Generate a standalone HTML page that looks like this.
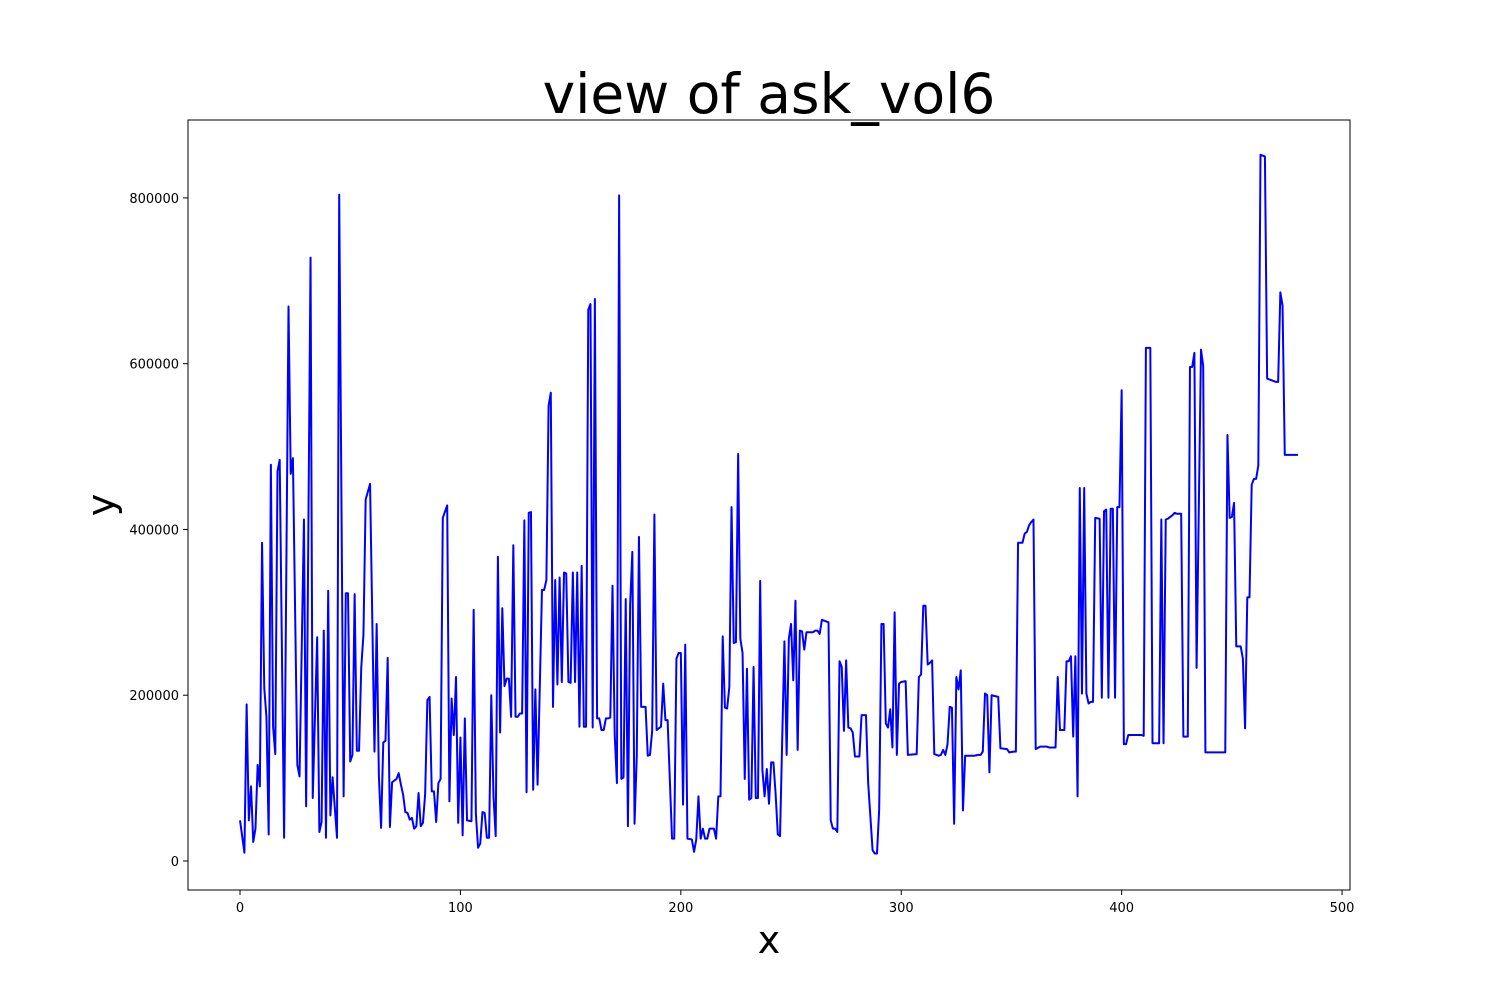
<!DOCTYPE html>
<html><head><meta charset="utf-8"><title>view of ask_vol6</title>
<style>
body{margin:0;background:#fff;}
svg{display:block;font-family:"DejaVu Sans","Liberation Sans",sans-serif;}
</style></head>
<body>
<svg id="chart" width="1500" height="1000" viewBox="0 0 1500 1000" xmlns="http://www.w3.org/2000/svg">
<rect x="0" y="0" width="1500" height="1000" fill="#fff"/>
<text x="769" y="113" font-size="55" text-anchor="middle">view of ask_vol6</text>
<g id="plot"></g>
<rect x="188" y="120" width="1162" height="770" fill="none" stroke="#000" stroke-width="1"/>
<text x="769" y="953" font-size="38" text-anchor="middle">x</text>
<text x="0" y="0" font-size="38" text-anchor="middle" transform="translate(114,505) rotate(-90)">y</text>
</svg>
<script>
const xs = [0,2,3,4,5,6,7,8,9,10,11,12,13,14,15,16,17,18,20,22,23,24,26,27,29,30,32,33,35,36,37,38,39,40,41,42,44,45,47,48,49,50,51,52,53,54,55,56,57,59,61,62,63,64,65,66,67,68,69,71,72,73,74,75,76,77,78,79,80,81,82,
83,84,85,86,87,88,89,90,91,92,94,95,96,97,98,99,100,101,102,103,105,106,107,108,109,110,111,112,113,114,115,116,117,118,119,120,121,122,123,124,125,126,127,128,129,130,131,132,133,134,135,137,138,139,140,141,142,143,144,145,146,147,148,149,150,151,152,153,154,155,156,157,158,159,160,161,162,163,164,165,166,167,
168,169,170,171,172,173,174,175,176,177,178,179,180,181,182,184,185,186,187,188,189,191,192,193,194,196,197,198,199,200,201,202,203,205,206,207,208,209,210,211,212,213,215,216,217,218,219,220,221,222,223,224,225,226,227,228,229,230,231,232,233,234,235,236,237,238,239,240,241,242,243,244,245,247,248,249,250,
251,252,253,254,255,256,257,260,261,262,263,264,267,268,269,270,271,272,273,274,275,276,277,278,279,281,282,284,285,287,288,289,290,291,292,293,294,295,296,297,298,299,300,302,303,307,308,309,310,311,312,313,314,315,317,318,319,320,321,322,323,324,325,326,327,328,329,331,333,335,
336,337,338,339,340,341,344,345,348,349,351,352,353,355,356,357,358,359,360,361,363,366,367,370,371,372,374,375,376,377,378,379,380,381,382,383,384,385,386,387,388,390,391,392,393,394,395,396,397,398,399,400,401,402,403,406,409,410,
411,413,414,417,418,419,420,421,423,424,425,427,428,430,431,432,433,434,436,437,438,447,448,449,450,451,452,454,455,456,457,458,459,460,461,462,463,465,466,470,471,472,473,474,480];
const ys = [49000,10000,189000,49000,90000,23000,39000,116000,90000,384000,209000,173000,32000,478000,162000,129000,470000,484000,28000,669000,467000,486000,116000,102000,412000,66000,728000,76000,270000,35000,47000,278000,28000,326000,55000,101000,28000,804000,78000,323000,323000,120000,128000,322000,133000,133000,233000,273000,436000,455000,132000,286000,103000,40000,143000,145000,245000,41000,95000,99000,106000,92000,80000,59000,58000,50000,52000,39000,42000,82000,42000,
46000,81000,194000,198000,84000,84000,47000,94000,99000,414000,429000,72000,196000,152000,222000,46000,149000,31000,172000,49000,48000,303000,57000,16000,21000,59000,58000,28000,28000,200000,78000,30000,367000,155000,305000,211000,220000,220000,174000,381000,174000,174000,178000,178000,411000,83000,420000,421000,86000,207000,92000,327000,327000,339000,549000,565000,186000,339000,213000,342000,216000,348000,347000,216000,215000,348000,216000,348000,162000,356000,162000,162000,665000,672000,161000,678000,172000,172000,158000,158000,172000,172000,
173000,332000,152000,94000,803000,99000,101000,316000,42000,309000,373000,45000,126000,391000,186000,186000,127000,128000,157000,418000,158000,162000,214000,170000,170000,27000,27000,244000,251000,251000,68000,261000,27000,26000,11000,26000,78000,27000,39000,27000,27000,39000,39000,27000,78000,78000,271000,185000,184000,210000,427000,263000,264000,491000,268000,251000,99000,232000,74000,76000,234000,76000,76000,338000,110000,78000,111000,69000,119000,119000,81000,32000,30000,265000,128000,268000,286000,
218000,314000,134000,278000,277000,255000,276000,276000,278000,278000,274000,291000,288000,49000,39000,39000,35000,241000,234000,157000,242000,161000,160000,155000,126000,126000,176000,176000,94000,13000,9000,9000,63000,286000,286000,166000,161000,183000,137000,300000,128000,214000,216000,217000,128000,129000,222000,225000,308000,308000,237000,239000,242000,129000,127000,128000,134000,128000,141000,186000,185000,45000,222000,207000,230000,61000,127000,127000,127000,128000,
128000,132000,202000,200000,107000,200000,198000,136000,135000,131000,132000,132000,384000,384000,395000,397000,405000,409000,412000,135000,138000,138000,137000,137000,222000,158000,158000,241000,241000,247000,150000,247000,78000,450000,202000,450000,202000,190000,192000,192000,414000,413000,197000,422000,424000,197000,425000,425000,197000,427000,427000,568000,141000,141000,152000,152000,152000,151000,
619000,619000,142000,142000,412000,142000,412000,413000,417000,420000,419000,419000,150000,150000,596000,596000,613000,233000,617000,597000,131000,131000,514000,414000,415000,432000,259000,259000,244000,160000,318000,318000,454000,461000,461000,477000,852000,850000,582000,578000,578000,686000,670000,490000,490000];
const xTicks = [0,100,200,300,400,500];
const yTicks = [0,200000,400000,600000,800000];

const X0=188, X1=1350, Y0=120, Y1=890;
const xMin=-23.6, xMax=503.6, yMin=-35000, yMax=894000;
function sx(v){return X0+(v-xMin)/(xMax-xMin)*(X1-X0);}
function sy(v){return Y1-(v-yMin)/(yMax-yMin)*(Y1-Y0);}
const NS="http://www.w3.org/2000/svg";
const plot=document.getElementById('plot');
function mk(tag,attrs){const e=document.createElementNS(NS,tag);for(const k in attrs)e.setAttribute(k,attrs[k]);return e;}

xTicks.forEach(t=>{
  const l=mk('line',{x1:sx(t),x2:sx(t),y1:Y1,y2:Y1+5,stroke:'#000','stroke-width':1});
  
  
  plot.appendChild(l);
  const tx=mk('text',{x:sx(t),y:Y1+22,'font-size':13,'text-anchor':'middle'});
  
  
  tx.textContent=t;plot.appendChild(tx);
});
yTicks.forEach(t=>{
  const l=mk('line',{x1:X0-5,x2:X0,y1:sy(t),y2:sy(t),stroke:'#000','stroke-width':1});
  
  
  plot.appendChild(l);
  const tx=mk('text',{x:X0-9,y:sy(t)+5,'font-size':13,'text-anchor':'end'});
  
  
  tx.textContent=t;plot.appendChild(tx);
});
const d=xs.map((x,i)=>(i?'L':'M')+sx(x).toFixed(2)+','+sy(ys[i]).toFixed(2)).join('');
const path=mk('path',{d:d,fill:'none',stroke:'#0000ff','stroke-width':2,'stroke-linejoin':'round'});


plot.appendChild(path);
</script>
</body></html>
